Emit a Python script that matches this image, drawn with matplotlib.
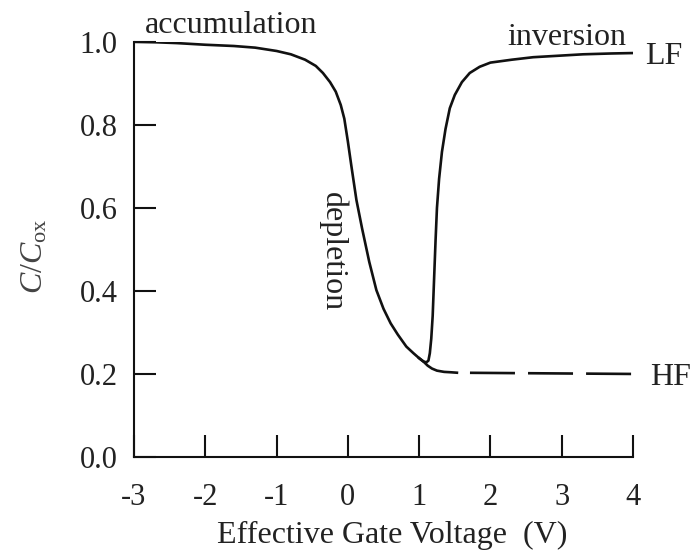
import matplotlib
matplotlib.use("Agg")
import matplotlib.pyplot as plt

plt.rcParams['font.family'] = ['Liberation Serif', 'DejaVu Serif']
plt.rcParams['mathtext.fontset'] = 'custom'
plt.rcParams['mathtext.rm'] = 'Liberation Serif'
plt.rcParams['mathtext.it'] = 'Liberation Serif:italic'
plt.rcParams['lines.scale_dashes'] = False

# low-frequency C-V curve
lf_v = [-3.0, -2.7, -2.4, -2.0, -1.6, -1.3, -1.0, -0.8, -0.6, -0.45, -0.35, -0.25,
        -0.17, -0.1, -0.05, 0.0, 0.05, 0.12, 0.2, 0.3, 0.4, 0.5, 0.6, 0.7, 0.82,
        0.92, 1.0, 1.06, 1.1, 1.13, 1.15, 1.17, 1.19, 1.21, 1.23, 1.25, 1.28, 1.32,
        1.37, 1.43, 1.5, 1.6, 1.71, 1.85, 2.0, 2.3, 2.6, 3.0, 3.3, 3.7, 4.0]
lf_c = [1.000, 0.999, 0.997, 0.993, 0.990, 0.986, 0.978, 0.970, 0.957, 0.942,
        0.925, 0.903, 0.880, 0.848, 0.815, 0.760, 0.700, 0.619, 0.550, 0.470,
        0.402, 0.357, 0.322, 0.295, 0.266, 0.250, 0.238, 0.230, 0.228, 0.232,
        0.250, 0.285, 0.340, 0.430, 0.520, 0.600, 0.670, 0.735, 0.790, 0.840,
        0.872, 0.903, 0.925, 0.940, 0.950, 0.957, 0.963, 0.967, 0.970, 0.972, 0.973]

# high-frequency branch after the split
hf_v = [1.0, 1.06, 1.12, 1.18, 1.25, 1.35, 1.45, 1.53]
hf_c = [0.238, 0.230, 0.220, 0.213, 0.208, 0.205, 0.204, 0.203]
hf_tail_v = [1.53, 4.0]
hf_tail_c = [0.203, 0.200]

xticks = [-3, -2, -1, 0, 1, 2, 3, 4]
xticklabels = ['-3', '-2', '-1', '0', '1', '2', '3', '4']
yticks = [0.0, 0.2, 0.4, 0.6, 0.8, 1.0]
yticklabels = ['0.0', '0.2', '0.4', '0.6', '0.8', '1.0']

ink = '#111111'
txt = '#222222'
fs = 23

fig = plt.figure(figsize=(6.91, 5.55), dpi=100)
ax = fig.add_axes([0.194, 0.1766, 0.722, 0.748])

ax.plot(lf_v, lf_c, color=ink, lw=1.9, solid_joinstyle='round')
ax.plot(hf_v, hf_c, color=ink, lw=1.9, solid_joinstyle='round')
ax.plot(hf_tail_v, hf_tail_c, color=ink, lw=1.9,
        linestyle=(32.4, (32.4, 9.4)))

ax.set_xlim(-3, 4)
ax.set_ylim(0, 1.0)
ax.set_xticks(xticks)
ax.set_xticklabels(xticklabels)
ax.set_yticks(yticks)
ax.set_yticklabels(yticklabels)

for s in ['top', 'right']:
    ax.spines[s].set_visible(False)
for s in ['left', 'bottom']:
    ax.spines[s].set_linewidth(1.5)
    ax.spines[s].set_color(ink)

ax.tick_params(direction='in', length=15.5, width=1.5, color=ink,
               labelsize=22, labelcolor=txt)
ax.tick_params(axis='y', pad=12)
ax.tick_params(axis='x', pad=18.5)

ax.set_xlabel('Effective Gate Voltage  (V)', fontsize=fs, color=txt)
ax.xaxis.set_label_coords(0.517, -0.155)
ax.xaxis.label.set_va('top')
ax.text(-0.2, 0.484, r'$C/C_{\mathrm{ox}}$', transform=ax.transAxes, rotation=90,
        ha='center', va='center', fontsize=fs, color='#444444')

ax.text(-1.64, 1.022, 'accumulation', fontsize=fs, ha='center', va='baseline',
        color=txt, clip_on=False)
ax.text(3.07, 0.993, 'inversion', fontsize=fs, ha='center', va='baseline',
        color=txt, clip_on=False)
ax.text(4.43, 0.946, 'LF', fontsize=fs, ha='center', va='baseline',
        color=txt, clip_on=False)
ax.text(4.53, 0.173, 'HF', fontsize=fs, ha='center', va='baseline',
        color=txt, clip_on=False)
ax.text(-0.21, 0.496, 'depletion', fontsize=fs, ha='center', va='center',
        rotation=-90, color=txt, clip_on=False)

fig.savefig('out.png', dpi=100)
